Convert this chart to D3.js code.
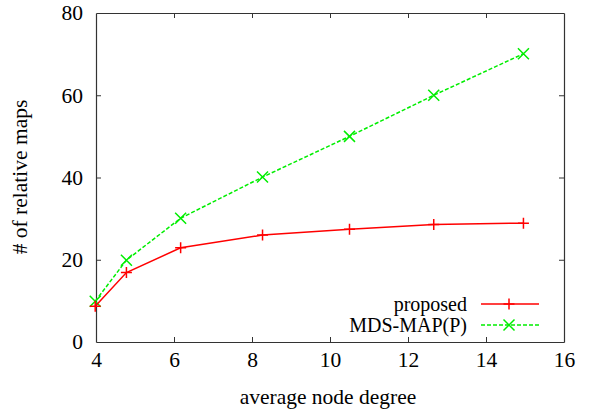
<!DOCTYPE html>
<html>
<head>
<meta charset="utf-8">
<script src="https://cdn.jsdelivr.net/npm/d3@7"></script>
<style>
  body { margin: 0; background: #fff; }
  svg text { font-family: "Liberation Serif", "Times New Roman", "DejaVu Serif", serif !important; fill: #000; }
</style>
</head>
<body>
<div id="chart"></div>
<script>
// series
var degree = [3.98, 4.78, 6.17, 8.27, 10.5, 12.66, 14.96];
var proposed = [8.7, 16.9, 22.9, 26.0, 27.4, 28.6, 28.9];
var mdsmap = [9.9, 19.9, 30.1, 40.1, 50.0, 60.0, 70.1];
var xTicks = [4, 6, 8, 10, 12, 14, 16];
var yTicks = [0, 20, 40, 60, 80];

var W = 591, H = 412;
var margin = {top: 13, right: 27, bottom: 70, left: 96},
    width = W - margin.left - margin.right,
    height = H - margin.top - margin.bottom;

var fs = "21.5px";

var x = d3.scaleLinear().domain([4, 16]).range([0, width]);
var y = d3.scaleLinear().domain([0, 80]).range([height, 0]);

var svg = d3.select("#chart").append("svg")
    .attr("width", W)
    .attr("height", H)
  .append("g")
    .attr("transform", "translate(" + margin.left + "," + margin.top + ")");

var tickLen = 5;

// axes with inward ticks, mirrored on top and right like gnuplot
var axB = svg.append("g")
    .attr("transform", "translate(0," + height + ")")
    .call(d3.axisBottom(x).tickValues(xTicks).tickSizeInner(-tickLen).tickSizeOuter(0).tickPadding(10));
var axT = svg.append("g")
    .call(d3.axisTop(x).tickValues(xTicks).tickSizeInner(-tickLen).tickSizeOuter(0).tickFormat(""));
var axL = svg.append("g")
    .call(d3.axisLeft(y).tickValues(yTicks).tickSizeInner(-tickLen).tickSizeOuter(0).tickPadding(13));
var axR = svg.append("g")
    .attr("transform", "translate(" + width + ",0)")
    .call(d3.axisRight(y).tickValues(yTicks).tickSizeInner(-tickLen).tickSizeOuter(0).tickFormat(""));

[axB, axT, axL, axR].forEach(function(a) {
  a.attr("font-family", null).attr("font-size", null);
  a.select(".domain").attr("stroke", "#333").attr("stroke-width", 1.2);
  a.selectAll(".tick line").attr("stroke", "#333");
  a.selectAll("text").style("font-size", fs).attr("fill", "#000");
});
// skip ticks at the corners
axB.selectAll(".tick").filter(function(d) { return d === 4 || d === 16; }).select("line").remove();
axT.selectAll(".tick").filter(function(d) { return d === 4 || d === 16; }).select("line").remove();
axL.selectAll(".tick").filter(function(d) { return d === 0 || d === 80; }).select("line").remove();
axR.selectAll(".tick").filter(function(d) { return d === 0 || d === 80; }).select("line").remove();

var line = function(vals) {
  return d3.line()
    .x(function(d, i) { return x(degree[i]); })
    .y(function(d) { return y(d); })(vals);
};

var red = "#ff0000", green = "#00ee00";
var ms = 5.5;

function plus(g, cx, cy, col) {
  g.append("path")
    .attr("d", "M" + (cx - ms) + "," + cy + "H" + (cx + ms) + "M" + cx + "," + (cy - ms) + "V" + (cy + ms))
    .attr("stroke", col).attr("stroke-width", 1.5).attr("fill", "none");
}
function cross(g, cx, cy, col) {
  g.append("path")
    .attr("d", "M" + (cx - ms) + "," + (cy - ms) + "L" + (cx + ms) + "," + (cy + ms) +
               "M" + (cx - ms) + "," + (cy + ms) + "L" + (cx + ms) + "," + (cy - ms))
    .attr("stroke", col).attr("stroke-width", 1.5).attr("fill", "none");
}

// MDS-MAP(P)
svg.append("path")
    .attr("d", line(mdsmap))
    .attr("fill", "none")
    .attr("stroke", green)
    .attr("stroke-width", 1.5)
    .attr("stroke-dasharray", "4,2");
var gm = svg.append("g");
mdsmap.forEach(function(d, i) { cross(gm, x(degree[i]), y(d), green); });

// proposed
svg.append("path")
    .attr("d", line(proposed))
    .attr("fill", "none")
    .attr("stroke", red)
    .attr("stroke-width", 1.5);
var gp = svg.append("g");
proposed.forEach(function(d, i) { plus(gp, x(degree[i]), y(d), red); });

// legend
var lg = svg.append("g").attr("transform", "translate(" + (371 - margin.left) + ",0)");
var legend = [
  {name: "proposed", col: red, dash: null, mark: plus, ly: 304},
  {name: "MDS-MAP(P)", col: green, dash: "4,2", mark: cross, ly: 325}
];
legend.forEach(function(l) {
  var yy = l.ly - margin.top;
  lg.append("text")
    .attr("x", 467 - 371)
    .attr("y", yy)
    .attr("dy", "0.33em")
    .attr("text-anchor", "end")
    .style("font-size", "20px")
    .text(l.name);
  lg.append("line")
    .attr("x1", 481 - 371).attr("x2", 539 - 371)
    .attr("y1", yy).attr("y2", yy)
    .attr("stroke", l.col).attr("stroke-width", 1.5)
    .attr("stroke-dasharray", l.dash);
  l.mark(lg, 509 - 371, yy, l.col);
});

// axis titles
svg.append("text")
    .attr("x", width / 2 - 2)
    .attr("y", height + 62)
    .attr("text-anchor", "middle")
    .style("font-size", fs)
    .text("average node degree");

svg.append("text")
    .attr("transform", "rotate(-90)")
    .attr("x", -(177 - margin.top))
    .attr("y", 27 - margin.left)
    .attr("text-anchor", "middle")
    .style("font-size", fs)
    .text("# of relative maps");
</script>
</body>
</html>
